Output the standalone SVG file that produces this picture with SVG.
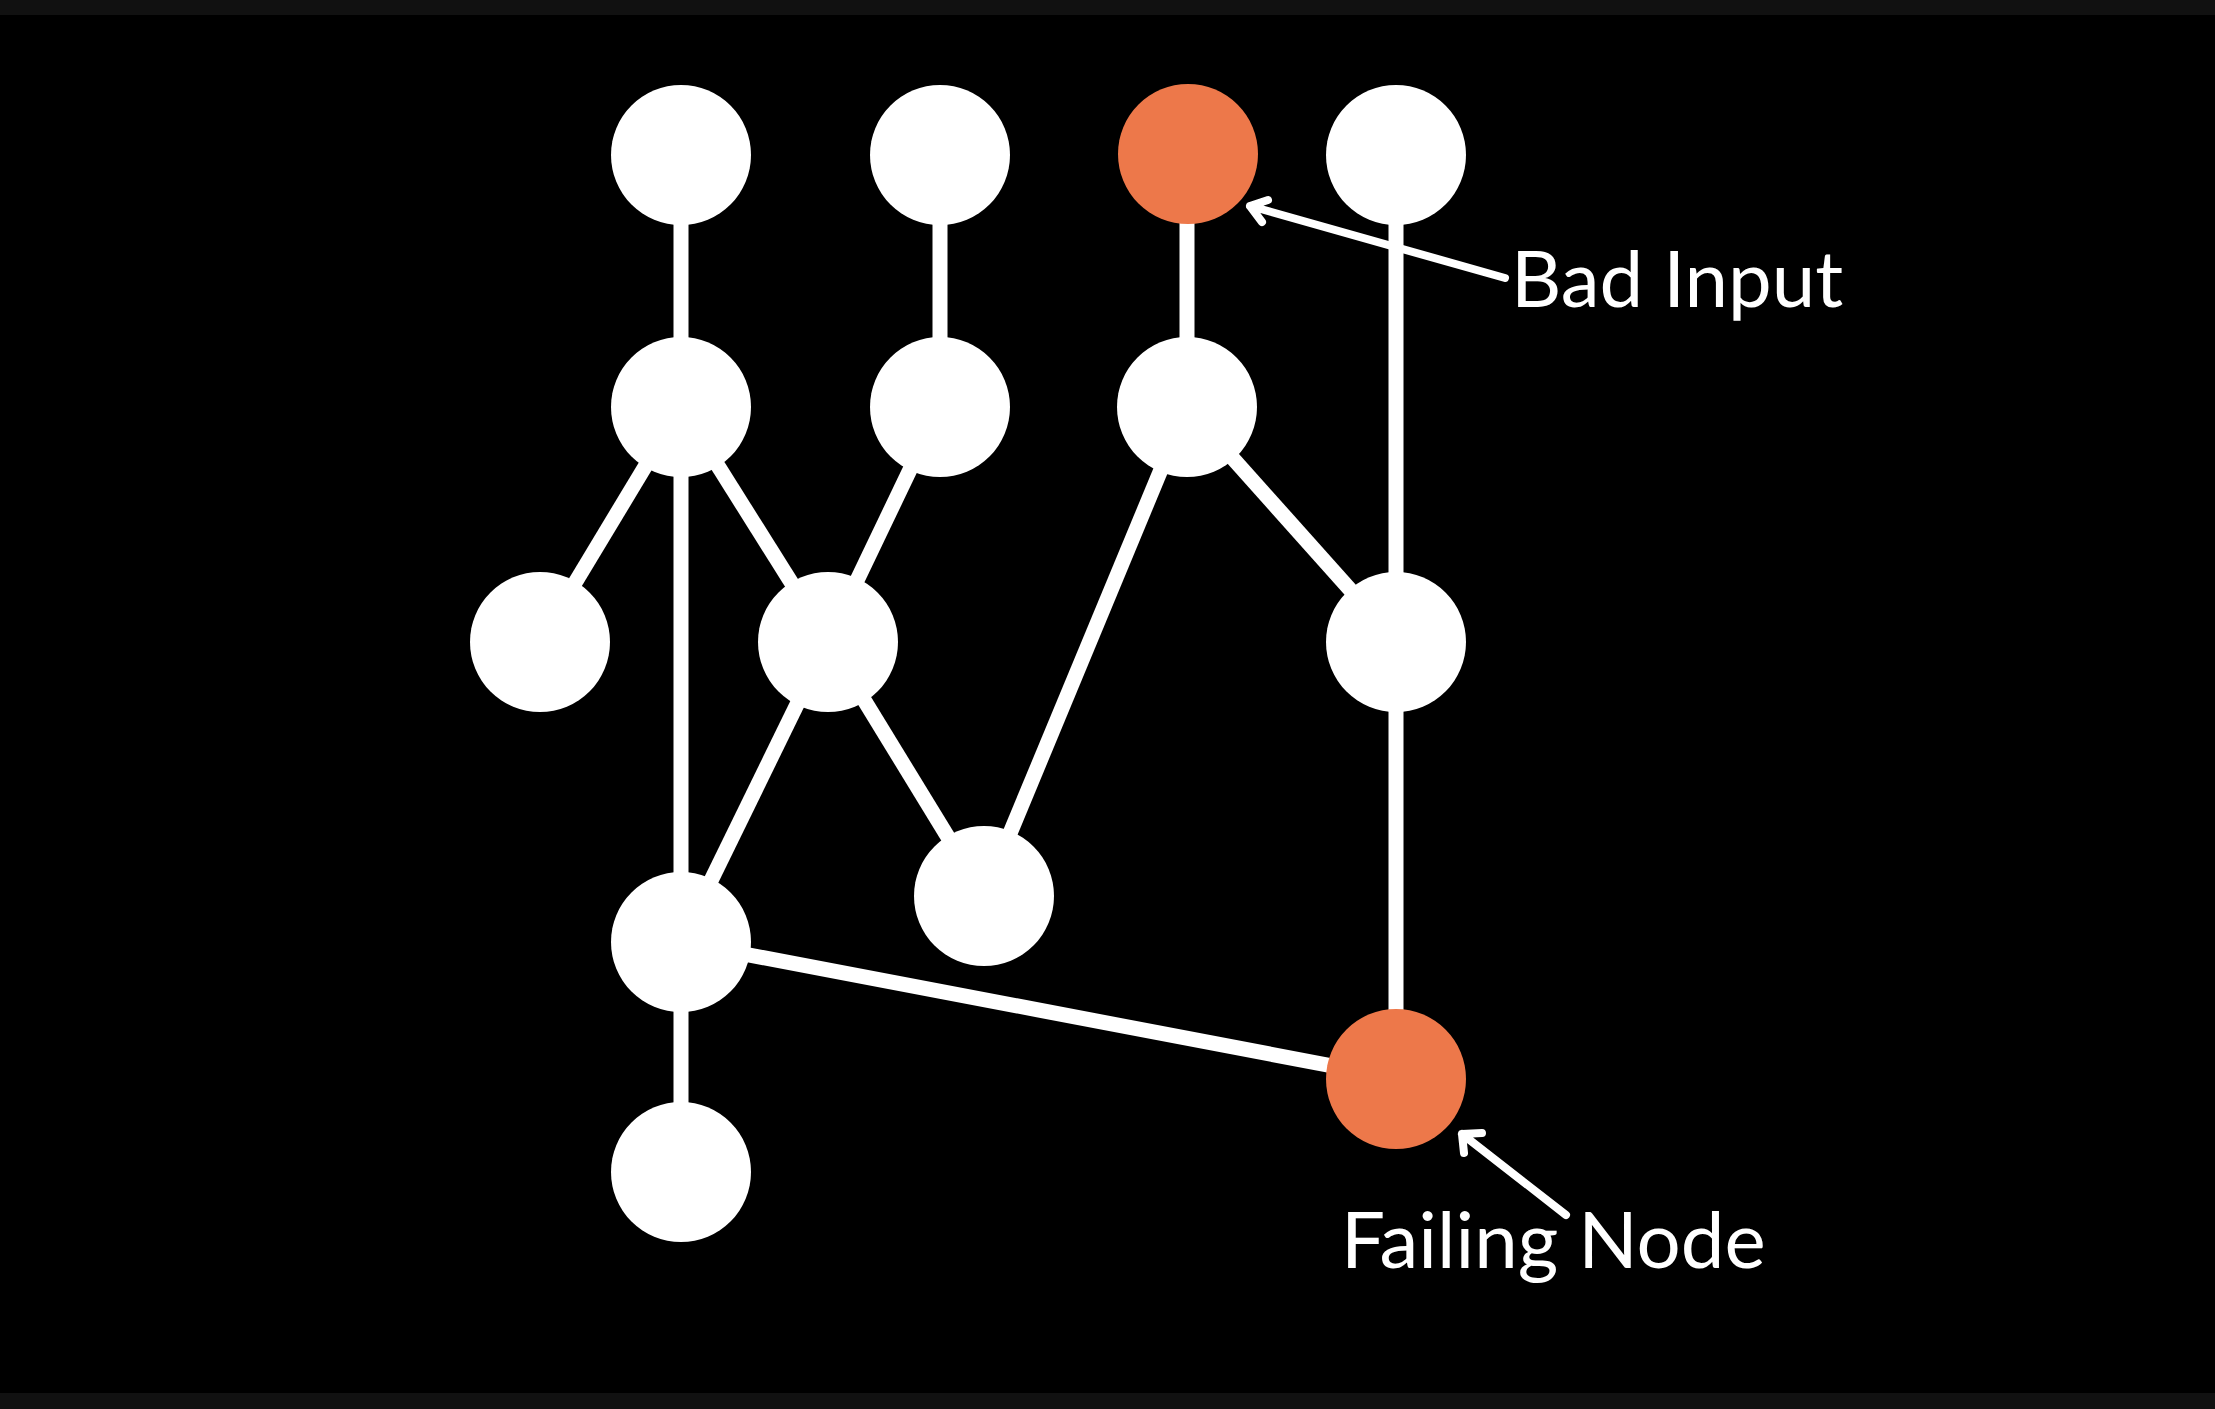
<svg xmlns="http://www.w3.org/2000/svg" width="2215" height="1409" viewBox="0 0 2215 1409">
<style>
.edge{stroke:#fff;stroke-width:15;fill:none}
.node{fill:#fff}
.bad{fill:#ED784A}
.ann{stroke:#fff;stroke-width:8;fill:none;stroke-linecap:round;stroke-linejoin:round}
.lbl{fill:#fff;font-family:Lato,"Open Sans",sans-serif;font-size:78px}
</style>
<rect width="2215" height="1409" fill="#000"/>
<rect x="0" y="0" width="2215" height="15" fill="#111"/>
<rect x="0" y="1393" width="2215" height="16" fill="#111"/>
<g id="edges">
<line class="edge" x1="681" y1="155" x2="681" y2="407"/>
<line class="edge" x1="940" y1="155" x2="940" y2="407"/>
<line class="edge" x1="1187" y1="155" x2="1187" y2="407"/>
<line class="edge" x1="1396" y1="155" x2="1396" y2="641"/>
<line class="edge" x1="681" y1="407" x2="540" y2="641"/>
<line class="edge" x1="681" y1="407" x2="828" y2="641"/>
<line class="edge" x1="681" y1="407" x2="681" y2="942"/>
<line class="edge" x1="940" y1="407" x2="828" y2="641"/>
<line class="edge" x1="1187" y1="407" x2="984" y2="896"/>
<line class="edge" x1="1187" y1="407" x2="1396" y2="641"/>
<line class="edge" x1="828" y1="641" x2="681" y2="942"/>
<line class="edge" x1="828" y1="641" x2="984" y2="896"/>
<line class="edge" x1="1396" y1="641" x2="1396" y2="1078"/>
<line class="edge" x1="681" y1="942" x2="1396" y2="1078"/>
<line class="edge" x1="681" y1="942" x2="681" y2="1172"/>
</g>
<g id="n1"><circle class="node" cx="681" cy="155" r="70"/></g>
<g id="n2"><circle class="node" cx="940" cy="155" r="70"/></g>
<g id="n3"><circle class="bad" cx="1188" cy="154" r="70"/></g>
<g id="n4"><circle class="node" cx="1396" cy="155" r="70"/></g>
<g id="n5"><circle class="node" cx="681" cy="407" r="70"/></g>
<g id="n6"><circle class="node" cx="940" cy="407" r="70"/></g>
<g id="n7"><circle class="node" cx="1187" cy="407" r="70"/></g>
<g id="n8"><circle class="node" cx="540" cy="642" r="70"/></g>
<g id="n9"><circle class="node" cx="828" cy="642" r="70"/></g>
<g id="n10"><circle class="node" cx="1396" cy="642" r="70"/></g>
<g id="n11"><circle class="node" cx="984" cy="896" r="70"/></g>
<g id="n12"><circle class="node" cx="681" cy="942" r="70"/></g>
<g id="n13"><circle class="bad" cx="1396" cy="1079" r="70"/></g>
<g id="n14"><circle class="node" cx="681" cy="1172" r="70"/></g>
<g id="bad-input">
<path class="ann" d="M1505 278 L1250 206 M1268 200 L1250 206 L1262 222"/>
<text class="lbl" x="1511" y="307">Bad Input</text>
</g>
<g id="failing-node">
<path class="ann" d="M1566 1215 L1462 1134 M1464 1153 L1462 1134 L1482 1133"/>
<text class="lbl" x="1341" y="1268">Failing Node</text>
</g>
</svg>
